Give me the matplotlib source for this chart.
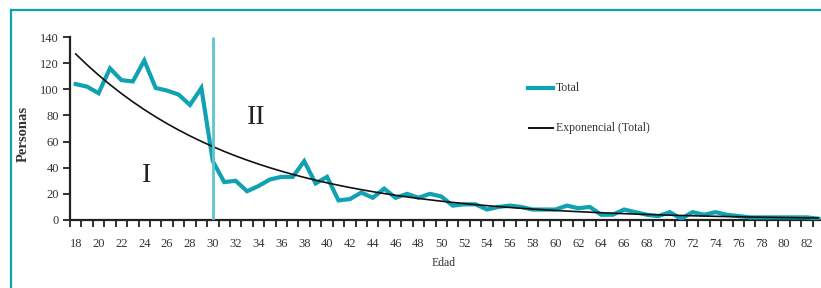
import numpy as np
import matplotlib
matplotlib.use("Agg")
import matplotlib.pyplot as plt
from matplotlib.lines import Line2D

ages = list(range(18, 84))
total = [104, 102, 97, 116, 107, 106, 122, 101, 99, 96, 88, 101,
         45, 29, 30, 22, 26, 31, 33, 33, 45, 28, 33, 15, 16, 21, 17, 24,
         17, 20, 17, 20, 18, 11, 12, 12, 8, 10, 11, 10, 8, 8, 8, 11, 9, 10,
         4, 4, 8, 6, 4, 3, 6, 1, 6, 4, 6, 4, 3, 2, 2, 2, 2, 2, 2, 1]
xtick_labels = list(range(18, 83, 2))
yticks = [0, 20, 40, 60, 80, 100, 120, 140]
split_age = 30
region_labels = ["I", "II"]

# Exponential trendline parameters (value at first age, rate per year)
trend_start = 127.0
trend_rate = -0.068
trend = trend_start * np.exp(trend_rate * (np.array(ages) - ages[0]))

TEAL = "#10a2b2"
LIGHT = "#62c3cc"
SERIF = "Liberation Serif"

fig = plt.figure(figsize=(8.21, 2.88), dpi=100)
W, H = 821, 288
ax = fig.add_axes([70 / W, (H - 220) / H, (824 - 70) / W, 183 / H])

ax.plot(ages, total, color=TEAL, lw=3.0, solid_joinstyle="miter", label="Total", zorder=3)
ax.plot(ages, trend, color="#111111", lw=1.2, label="Exponencial (Total)", zorder=4)
ax.vlines(split_age, 0, 140, color=LIGHT, lw=2.0, zorder=5)

ax.set_xlim(ages[0] - 0.5, ages[-1] + 0.5)
ax.set_ylim(0, 140)
for s in ["top", "right"]:
    ax.spines[s].set_visible(False)
for s in ["left", "bottom"]:
    ax.spines[s].set_linewidth(1.6)
    ax.spines[s].set_color("#222222")

ax.set_xticks(np.arange(ages[0] - 0.5, ages[-1] + 1.0, 1.0))
ax.set_xticklabels([])
ax.tick_params(axis="x", which="major", direction="out", length=5, width=1.3, color="#222222")
ax.set_xticks(xtick_labels, minor=True)
ax.set_xticklabels([str(v) for v in xtick_labels], minor=True, fontfamily=SERIF, fontsize=9, color="#333333")
ax.tick_params(axis="x", which="minor", length=0, pad=13)

ax.set_yticks(yticks)
ax.set_yticklabels([str(v) for v in yticks], fontfamily=SERIF, fontsize=9, color="#333333")
ax.tick_params(axis="y", direction="out", length=5, width=1.3, color="#222222", pad=3)

ax.text(23 / W, (H - 134) / H, "Personas", transform=fig.transFigure, rotation=90,
        ha="center", va="center", fontfamily=SERIF, fontsize=10.5, fontweight="bold", color="#333333")
ax.text(444 / W, (H - 263) / H, "Edad", transform=fig.transFigure,
        ha="center", va="center", fontfamily=SERIF, fontsize=8.5, color="#333333")

ax.text(147 / W, (H - 176) / H, region_labels[0], transform=fig.transFigure,
        ha="center", va="center", fontfamily=SERIF, fontsize=20, color="#222222")
ax.text(256 / W, (H - 118) / H, region_labels[1], transform=fig.transFigure,
        ha="center", va="center", fontfamily=SERIF, fontsize=20, color="#222222")

# legend
fig.add_artist(Line2D([528 / W, 553 / W], [(H - 88) / H] * 2, color=TEAL, lw=3.0))
fig.text(556 / W, (H - 88) / H, "Total", ha="left", va="center", fontfamily=SERIF, fontsize=8.5, color="#333333")
fig.add_artist(Line2D([529 / W, 553 / W], [(H - 128) / H] * 2, color="#111111", lw=1.4))
fig.text(556 / W, (H - 128) / H, "Exponencial (Total)", ha="left", va="center", fontfamily=SERIF, fontsize=8.5, color="#333333")

# frame border (left and top visible)
fig.add_artist(Line2D([10.5 / W, 10.5 / W], [0, (H - 9.5) / H], color=TEAL, lw=1.6))
fig.add_artist(Line2D([10.5 / W, 1.0], [(H - 9.5) / H] * 2, color=TEAL, lw=1.6))

fig.savefig("out.png", dpi=100)
